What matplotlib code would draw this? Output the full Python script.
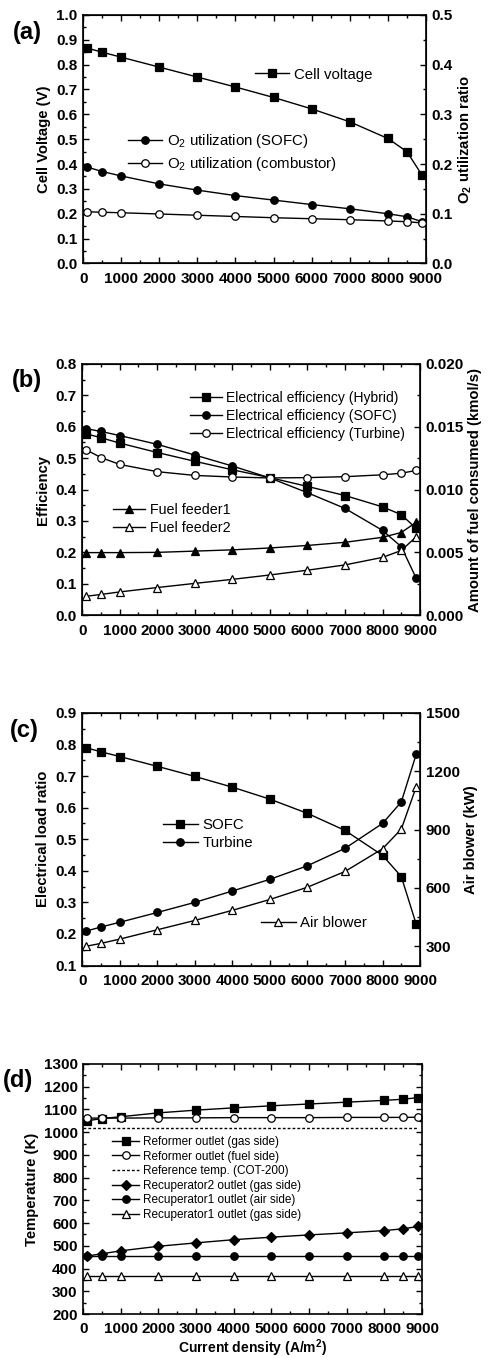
import numpy as np
import matplotlib
matplotlib.use("Agg")
import matplotlib.pyplot as plt
from matplotlib.ticker import MultipleLocator, FormatStrFormatter

plt.rcParams['font.family'] = ['Liberation Sans', 'DejaVu Sans']
plt.rcParams['mathtext.fontset'] = 'custom'
plt.rcParams['mathtext.rm'] = 'Liberation Sans'
plt.rcParams['mathtext.bf'] = 'Liberation Sans:bold'
plt.rcParams['mathtext.it'] = 'Liberation Sans:italic'

# current density (A/m2)
current = [100, 500, 1000, 2000, 3000, 4000, 5000, 6000, 7000, 8000, 8500, 8900]

# (a)
cell_voltage = [0.867, 0.85, 0.83, 0.79, 0.75, 0.71, 0.668, 0.622, 0.57, 0.503, 0.45, 0.355]
o2_sofc = [0.194, 0.185, 0.176, 0.16, 0.1475, 0.1365, 0.1275, 0.1185, 0.11, 0.1, 0.094, 0.084]
o2_comb = [0.104, 0.103, 0.102, 0.0995, 0.097, 0.0945, 0.092, 0.09, 0.088, 0.0855, 0.084, 0.0815]

# (b)
eff_hybrid = [0.578, 0.565, 0.548, 0.518, 0.49, 0.463, 0.438, 0.41, 0.381, 0.345, 0.32, 0.276]
eff_sofc = [0.594, 0.585, 0.572, 0.544, 0.51, 0.475, 0.437, 0.39, 0.34, 0.27, 0.218, 0.117]
eff_turbine = [0.527, 0.502, 0.48, 0.457, 0.445, 0.44, 0.437, 0.438, 0.441, 0.447, 0.452, 0.461]
fuel_feeder1 = [0.00498, 0.00498, 0.00498, 0.005, 0.0051, 0.0052, 0.00535, 0.00555, 0.0058, 0.0062, 0.00658, 0.0074]
fuel_feeder2 = [0.0015, 0.00165, 0.00185, 0.0022, 0.00253, 0.00285, 0.0032, 0.00358, 0.004, 0.0046, 0.00515, 0.00625]

# (c)
load_sofc = [0.79, 0.777, 0.762, 0.731, 0.699, 0.665, 0.627, 0.582, 0.528, 0.449, 0.382, 0.23]
load_turbine = [0.209, 0.222, 0.237, 0.268, 0.3, 0.336, 0.373, 0.416, 0.471, 0.55, 0.618, 0.77]
air_blower = [299, 314, 336, 384, 432, 484, 540, 603, 684, 801, 902, 1121]

# (d)
ref_gas = [1050, 1060, 1068, 1085, 1097, 1107, 1116, 1124, 1132, 1140, 1145, 1152]
ref_fuel = [1062, 1062, 1062, 1063, 1063, 1064, 1064, 1064, 1065, 1065, 1065, 1066]
ref_temp = 1020
rec2_gas = [455, 465, 478, 498, 513, 527, 538, 548, 557, 567, 575, 585]
rec1_air = [453, 453, 453, 453, 453, 453, 453, 453, 453, 453, 453, 453]
rec1_gas = [365, 365, 365, 365, 365, 365, 365, 365, 365, 365, 365, 365]

TICK = 11
LAB = 10.7
MS = 5.4
MS_TRI = 6.0


def style(ax, ymaj, ymin, right=False, top=True):
    ax.set_xlim(0, 9000)
    ax.xaxis.set_major_locator(MultipleLocator(1000))
    ax.xaxis.set_minor_locator(MultipleLocator(500))
    ax.yaxis.set_major_locator(MultipleLocator(ymaj))
    ax.yaxis.set_minor_locator(MultipleLocator(ymin))
    ax.tick_params(which='both', direction='in', top=top, right=right, width=1.0)
    ax.tick_params(which='major', length=4)
    ax.tick_params(which='minor', length=2)
    ax.tick_params(labelsize=TICK)
    ax.tick_params(axis='x', pad=6)
    ax.tick_params(axis='y', pad=4)
    for lab in ax.get_xticklabels() + ax.get_yticklabels():
        lab.set_fontweight('bold')
    for s in ax.spines.values():
        s.set_linewidth(1.2)


def style_twin(ax2, ymaj, ymin):
    ax2.yaxis.set_major_locator(MultipleLocator(ymaj))
    ax2.yaxis.set_minor_locator(MultipleLocator(ymin))
    ax2.tick_params(which='both', direction='in', width=1.0)
    ax2.tick_params(which='major', length=4)
    ax2.tick_params(which='minor', length=2)
    ax2.tick_params(labelsize=TICK, pad=4)
    for lab in ax2.get_yticklabels():
        lab.set_fontweight('bold')


def line(ax, y, marker, filled=True, label=None, ms=MS):
    ax.plot(current, y, color='black', lw=1.0, marker=marker, ms=ms,
            mfc='black' if filled else 'white', mec='black', mew=0.9, label=label)


def leg(ax, x, y, fs, loc='upper left', spacing=0.3):
    ax.legend(loc=loc, bbox_to_anchor=(x, y), frameon=False, fontsize=fs,
              handlelength=2.3, handletextpad=0.3, borderpad=0, borderaxespad=0,
              labelspacing=spacing)


fig = plt.figure(figsize=(4.89, 13.58), dpi=100)

# ---- (a)
ax = fig.add_axes([0.170, 0.806, 0.701, 0.183])
line(ax, cell_voltage, 's', label='Cell voltage')
ax.set_ylim(0, 1.0)
style(ax, 0.1, 0.05)
ax.set_ylabel('Cell Voltage (V)', fontsize=LAB, fontweight='bold', labelpad=4)
ax2 = ax.twinx()
line(ax2, o2_sofc, 'o', label='O$_2$ utilization (SOFC)')
line(ax2, o2_comb, 'o', filled=False, label='O$_2$ utilization (combustor)')
ax2.set_ylim(0, 0.5)
style_twin(ax2, 0.1, 0.05)
ax2.set_ylabel(r'O$_{\mathbf{2}}$ utilization ratio', fontsize=LAB, fontweight='bold', labelpad=3)
leg(ax, 0.50, 0.76, 10.8, loc='center left')
leg(ax2, 0.13, 0.528, 10.8, spacing=0.35)
fig.text(0.027, 0.9764, '(a)', fontsize=17, fontweight='bold', ha='left', va='center')

# ---- (b)
ax = fig.add_axes([0.168, 0.547, 0.691, 0.185])
line(ax, eff_hybrid, 's', label='Electrical efficiency (Hybrid)')
line(ax, eff_sofc, 'o', label='Electrical efficiency (SOFC)')
line(ax, eff_turbine, 'o', filled=False, label='Electrical efficiency (Turbine)')
ax.set_ylim(0, 0.8)
style(ax, 0.1, 0.05)
ax.set_ylabel('Efficiency', fontsize=LAB, fontweight='bold', labelpad=4)
ax2 = ax.twinx()
line(ax2, fuel_feeder1, '^', label='Fuel feeder1', ms=MS_TRI)
line(ax2, fuel_feeder2, '^', filled=False, label='Fuel feeder2', ms=MS_TRI)
ax2.set_ylim(0, 0.02)
style_twin(ax2, 0.005, 0.0025)
ax2.yaxis.set_major_formatter(FormatStrFormatter('%.3f'))
ax2.set_ylabel('Amount of fuel consumed (kmol/s)', fontsize=LAB, fontweight='bold', labelpad=3)
leg(ax, 0.32, 0.893, 10.0, spacing=0.28)
leg(ax2, 0.09, 0.446, 10.3, spacing=0.25)
fig.text(0.025, 0.720, '(b)', fontsize=17, fontweight='bold', ha='left', va='center')

# ---- (c)
ax = fig.add_axes([0.168, 0.289, 0.691, 0.186])
line(ax, load_sofc, 's', label='SOFC')
line(ax, load_turbine, 'o', label='Turbine')
ax.set_ylim(0.1, 0.9)
style(ax, 0.1, 0.05)
ax.set_ylabel('Electrical load ratio', fontsize=LAB, fontweight='bold', labelpad=4)
ax2 = ax.twinx()
line(ax2, air_blower, '^', filled=False, label='Air blower', ms=MS_TRI)
ax2.set_ylim(200, 1500)
style_twin(ax2, 300, 150)
ax2.set_yticks([300, 600, 900, 1200, 1500])
ax2.set_ylabel('Air blower (kW)', fontsize=LAB, fontweight='bold', labelpad=3)
leg(ax, 0.24, 0.585, 10.8, spacing=0.3)
leg(ax2, 0.53, 0.167, 10.8, loc='center left')
fig.text(0.021, 0.4624, '(c)', fontsize=17, fontweight='bold', ha='left', va='center')

# ---- (d)
ax = fig.add_axes([0.170, 0.0324, 0.693, 0.1841])
line(ax, ref_gas, 's', label='Reformer outlet (gas side)')
line(ax, ref_fuel, 'o', filled=False, label='Reformer outlet (fuel side)')
ax.plot([0, 8900], [ref_temp, ref_temp], color='black', lw=1.0, ls=(0, (2, 1.5)),
        label='Reference temp. (COT-200)')
line(ax, rec2_gas, 'D', label='Recuperator2 outlet (gas side)', ms=5.0)
line(ax, rec1_air, 'o', label='Recuperator1 outlet (air side)')
line(ax, rec1_gas, '^', filled=False, label='Recuperator1 outlet (gas side)', ms=MS_TRI)
ax.set_ylim(200, 1300)
style(ax, 100, 50, right=True)
ax.set_ylabel('Temperature (K)', fontsize=LAB, fontweight='bold', labelpad=3)
ax.set_xlabel(r'Current density (A/m$^{\mathbf{2}}$)', fontsize=10, fontweight='bold', labelpad=1)
leg(ax, 0.085, 0.712, 8.5, spacing=0.22)
fig.text(0.006, 0.2047, '(d)', fontsize=17, fontweight='bold', ha='left', va='center')

fig.savefig('out.png', dpi=100)
